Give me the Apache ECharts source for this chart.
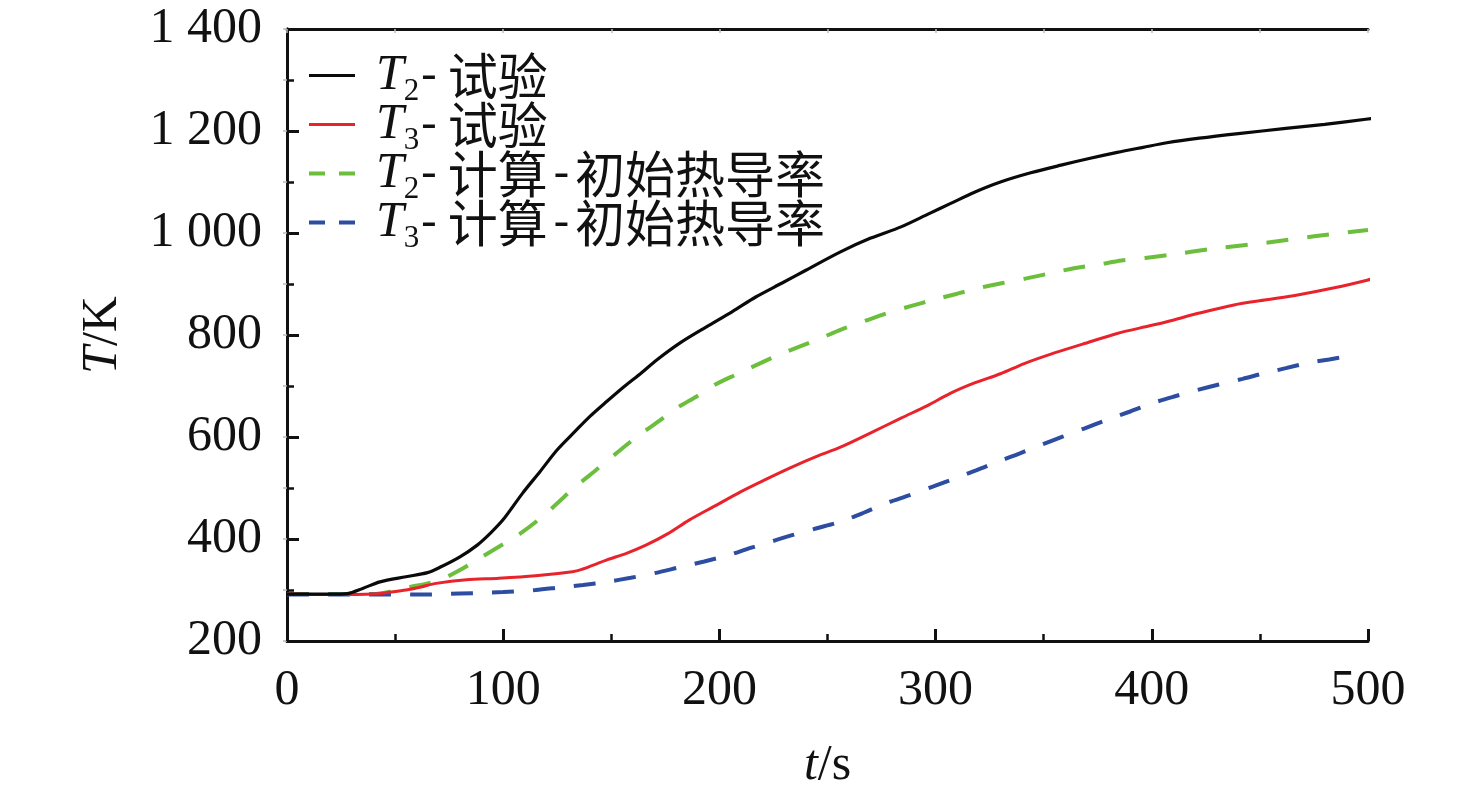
<!DOCTYPE html>
<html>
<head>
<meta charset="utf-8">
<script src="https://cdn.jsdelivr.net/npm/echarts@6/dist/echarts.min.js"></script>
<style>
html,body{margin:0;padding:0;background:#fff;}
#chart{width:1476px;height:791px;}
</style>
</head>
<body>
<div id="chart"></div>
<script>
// ---- data ----
const t2TestT = [0,10,20,28,35,43,55,65,71,80,88,94,100,109,117,125,133,140,148,156,164,171,182,194,206,217,229,240,256,270,284,297,307,318,330,344,358,371,384,396,407,422,440,462,480,499,505];
const t2TestV = [292,292,292,293,303,316,326,334,345,365,388,411,438,490,532,575,610,640,670,699,726,751,785,816,846,875,902,927,963,990,1012,1038,1058,1080,1100,1118,1133,1146,1158,1168,1177,1186,1195,1205,1213,1223,1226];

const t3TestT = [0,20,40,48,55,62,69,83,98,115,132,136,148,157,166,176,186,198,210,221,233,245,256,270,284,296,307,318,330,341,353,368,384,399,407,422,438,453,468,485,500,505];
const t3TestV = [292,291,292,296,300,306,313,320,323,328,336,340,359,372,388,410,437,465,493,516,540,562,580,608,637,661,686,706,724,744,762,782,803,818,826,843,859,869,879,893,908,914];

const t2CalcT = [0,20,40,48,57,65,72,80,89,100,108,117,125,133,142,152,162,171,180,190,199,208,217,227,237,247,256,267,277,288,299,310,320,331,342,353,364,375,386,397,408,430,453,476,500];
const t2CalcV = [292,292,292,297,306,313,322,339,362,390,411,440,470,501,532,567,601,628,656,681,705,723,741,760,777,794,810,827,842,856,869,881,892,902,911,921,931,938,946,951,957,970,981,994,1006];

const t3CalcT = [0,20,40,60,80,100,115,126,137,148,159,170,181,193,204,214,224,234,245,256,267,277,288,299,309,319,329,339,349,359,369,379,390,400,410,421,431,442,452,462,472,482,491];
const t3CalcV = [291,291,291,291,293,296,300,305,310,316,324,333,344,356,368,382,395,408,421,434,452,470,486,503,519,535,552,568,585,601,617,633,650,666,679,692,703,714,725,735,745,752,759];

const seriesNames = ['T2-试验','T3-试验','T2-计算-初始热导率','T3-计算-初始热导率'];
const legendSub = ['2','3','2','3'];
const legendRest = ['试验','试验','计算-初始热导率','计算-初始热导率'];
const seriesColors = ['#0a0a0a','#e8232b','#6cbf3c','#2d4da0'];

function pairs(a,b){ return a.map((v,i)=>[v,b[i]]); }

const serif = "'Liberation Serif','Times New Roman',serif";
const cjk = "'Noto Sans CJK SC','Liberation Serif',sans-serif";
const chart = echarts.init(document.getElementById('chart'));

const axisCommon = {
  axisLine:{show:true,onZero:false,lineStyle:{color:'#111',width:3}},
  axisTick:{show:true,inside:true,length:12,lineStyle:{color:'#111',width:3}},
  minorTick:{show:true,splitNumber:2,length:7,lineStyle:{color:'#111',width:2.5}},
  splitLine:{show:false}
};

chart.setOption({
  animation:false,
  backgroundColor:'#fff',
  grid:{left:287,right:108,top:29,bottom:150,containLabel:false,outerBoundsMode:'none'},
  legend:{
    orient:'vertical',
    left:302,
    top:39,
    itemWidth:46,
    itemHeight:14,
    itemGap:-14,
    itemStyle:{opacity:0},
    data:seriesNames.map((n,i)=>({
      name:n,
      lineStyle: i>=2 ? {type:[16,14],width:4} : {width:3}
    })),
    formatter:function(name){
      const i = seriesNames.indexOf(name);
      const rest = legendRest[i].split('-').map(p=>'{c|'+p+'}').join('{h|-}');
      return '{i|T}{s|'+legendSub[i]+'}{d|-}'+rest;
    },
    textStyle:{
      fontFamily:serif,fontSize:46,color:'#111',
      rich:{
        i:{fontFamily:serif,fontStyle:'italic',fontSize:50,color:'#111',lineHeight:50,padding:[0,0,0,16]},
        s:{fontFamily:serif,fontSize:31,color:'#111',lineHeight:50,padding:[32,0,0,0]},
        d:{fontFamily:serif,fontSize:46,color:'#111',lineHeight:50,padding:[0,11,0,2]},
        h:{fontFamily:serif,fontSize:46,color:'#111',lineHeight:50,padding:[0,6,0,6]},
        c:{fontFamily:cjk,fontSize:50,color:'#111',lineHeight:50}
      }
    }
  },
  xAxis:[{
    type:'value',min:0,max:500,interval:100,position:'bottom',
    ...axisCommon,
    axisLabel:{color:'#111',fontFamily:serif,fontSize:50,margin:25},
    name:'{i|t}/s',nameLocation:'middle',nameGap:100,
    nameTextStyle:{color:'#111',fontFamily:serif,fontSize:50,
      rich:{i:{fontFamily:serif,fontStyle:'italic',fontSize:50,color:'#111'}}}
  },{
    type:'value',min:0,max:500,interval:100,position:'top',
    axisLine:{show:true,lineStyle:{color:'#111',width:3}},
    axisTick:{show:true,inside:true,length:4,lineStyle:{color:'#bbb',width:1.5}},
    minorTick:{show:true,splitNumber:2,length:4,lineStyle:{color:'#bbb',width:1.5}},
    axisLabel:{show:false},splitLine:{show:false}
  }],
  yAxis:[{
    type:'value',min:200,max:1400,interval:200,position:'left',
    ...axisCommon,
    axisLabel:{color:'#111',fontFamily:serif,fontSize:50,margin:25,
      formatter:function(v){ return v>=1000 ? String(v).slice(0,1)+' '+String(v).slice(1) : String(v); }},
    name:'{i|T}/K',nameLocation:'middle',nameGap:159,nameRotate:90,
    nameTextStyle:{color:'#111',fontFamily:serif,fontSize:50,
      rich:{i:{fontFamily:serif,fontStyle:'italic',fontSize:50,color:'#111'}}}
  },{
    type:'value',min:200,max:1400,interval:200,position:'right',
    axisLine:{show:true,lineStyle:{color:'#111',width:3}},
    axisTick:{show:true,inside:true,length:4,lineStyle:{color:'#bbb',width:1.5}},
    minorTick:{show:true,splitNumber:2,length:4,lineStyle:{color:'#bbb',width:1.5}},
    axisLabel:{show:false},splitLine:{show:false}
  }],
  series:[
    {name:seriesNames[0],type:'line',data:pairs(t2TestT,t2TestV),showSymbol:false,symbol:'none',smooth:0.3,clip:false,
      lineStyle:{color:seriesColors[0],width:3.2},itemStyle:{color:seriesColors[0]},z:4},
    {name:seriesNames[1],type:'line',data:pairs(t3TestT,t3TestV),showSymbol:false,symbol:'none',smooth:0.3,clip:false,
      lineStyle:{color:seriesColors[1],width:3},itemStyle:{color:seriesColors[1]},z:3},
    {name:seriesNames[2],type:'line',data:pairs(t2CalcT,t2CalcV),showSymbol:false,symbol:'none',smooth:0.3,
      lineStyle:{color:seriesColors[2],width:4,type:[22,19]},itemStyle:{color:seriesColors[2]},z:2},
    {name:seriesNames[3],type:'line',data:pairs(t3CalcT,t3CalcV),showSymbol:false,symbol:'none',smooth:0.3,
      lineStyle:{color:seriesColors[3],width:4,type:[22,19]},itemStyle:{color:seriesColors[3]},z:2}
  ]
});
</script>
</body>
</html>
